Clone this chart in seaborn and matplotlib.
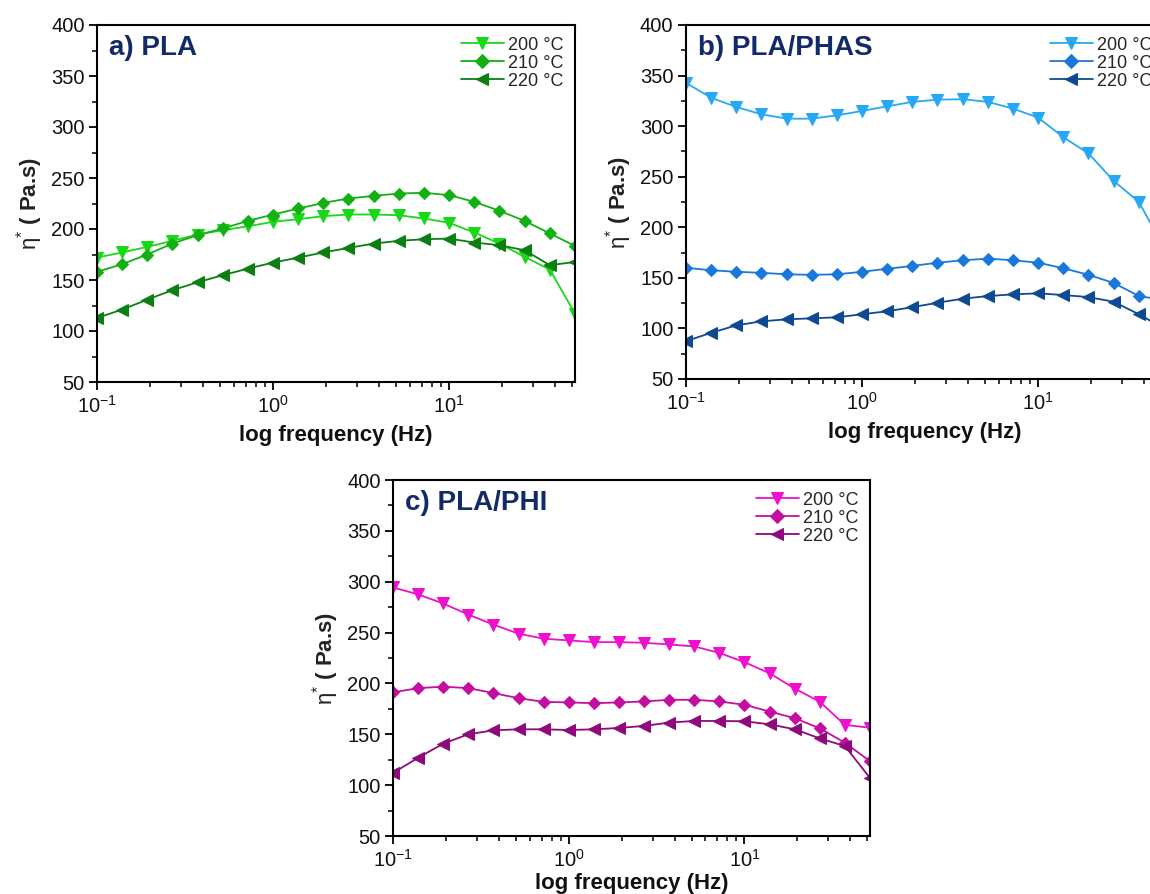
import numpy as np
import pandas as pd
import matplotlib
matplotlib.use("Agg")
import matplotlib.pyplot as plt
import seaborn as sns
from matplotlib.ticker import MultipleLocator, LogLocator, NullFormatter

# ---------------- data ----------------
freq = [0.1, 0.139, 0.193, 0.268, 0.373, 0.518, 0.720, 1.0, 1.39, 1.93,
        2.68, 3.73, 5.18, 7.20, 10.0, 13.9, 19.3, 26.8, 37.3, 51.8]

temps = ["200 °C", "210 °C", "220 °C"]

pla_200 = [172, 177, 182.5, 188.4, 194.6, 198.8, 202.7, 207, 209.6, 212.6,
           214.2, 214.2, 213.5, 210.3, 206, 196.5, 185.7, 172.7, 160.2, 117]
pla_210 = [158, 165.5, 175, 185.7, 194, 200.5, 208, 214.2, 220.1, 225.6,
           229.9, 232.5, 234.8, 235.5, 233.2, 226.6, 217.8, 208, 195.6, 183.4]
pla_220 = [112.8, 121, 130.8, 140, 147.8, 154.7, 161.2, 167.1, 172, 177,
           181.5, 185.7, 188.4, 190, 190.6, 186.7, 184.1, 179.2, 164.5, 167.7]

phas_200 = [342.8, 328, 319, 311.7, 307.4, 307.4, 310.7, 315, 319.6, 324,
            326.2, 326.6, 324, 317.3, 308.4, 289, 273, 246, 225, 180]
phas_210 = [160, 157.5, 156, 155, 153.5, 153, 153.5, 156, 159, 161.8,
            165, 167.4, 169, 167.4, 165, 159.5, 153, 145, 132, 128]
phas_220 = [87.4, 95.7, 103, 107, 109, 110, 111, 114, 117, 121,
            125.4, 129.4, 132, 133.7, 134.7, 133, 131, 126.4, 114, 100]

phi_200 = [294.4, 287.5, 278.6, 267.7, 257.8, 248.9, 244, 242.3, 240.6, 240.6,
           240, 238.3, 236.4, 230, 220.9, 210, 195, 182, 159.2, 156.5]
phi_210 = [191.2, 195.4, 196.8, 195.4, 190.5, 185.5, 181.9, 181.3, 180.6, 181.3,
           182.3, 183.9, 183.9, 182.3, 179, 172.4, 165.8, 155.9, 141.7, 123.5]
phi_220 = [112, 126.9, 140.8, 150, 153.9, 154.9, 154.9, 154.2, 154.9, 156.2,
           158.2, 161.5, 163.1, 163.1, 162.8, 159.8, 154.9, 146, 138.4, 107]

panel_titles = ["a) PLA", "b) PLA/PHAS", "c) PLA/PHI"]
yticks = [50, 100, 150, 200, 250, 300, 350, 400]

# ---------------- style ----------------
sns.set_theme(style="ticks")
plt.rcParams["font.family"] = ["Liberation Sans", "DejaVu Sans"]
plt.rcParams["mathtext.fontset"] = "custom"
plt.rcParams["mathtext.rm"] = "Liberation Sans"
plt.rcParams["mathtext.it"] = "Liberation Sans:italic"
plt.rcParams["mathtext.bf"] = "Liberation Sans:bold"
plt.rcParams["axes.unicode_minus"] = False

W, H = 1150, 894
fig = plt.figure(figsize=(W / 100, H / 100), dpi=100)

def rect(left, top, right, bottom):
    return [left / W, 1 - bottom / H, (right - left) / W, (bottom - top) / H]

axes = [
    fig.add_axes(rect(97, 25, 575, 382)),
    fig.add_axes(rect(686, 25, 1164, 379)),
    fig.add_axes(rect(393, 480, 870, 836)),
]
xlabel_pads = [6, 6, 2]

series = [
    (pla_200, pla_210, pla_220),
    (phas_200, phas_210, phas_220),
    (phi_200, phi_210, phi_220),
]
colors = [
    ("#18d818", "#12b012", "#0b7f12"),
    ("#27a8f5", "#1a78dc", "#0d4a92"),
    ("#ee10cc", "#c40ea0", "#8e0a7a"),
]
markers = ["v", "D", "<"]
msizes = [8, 6.5, 8]

for ax, ser, cols, title, xpad in zip(axes, series, colors, panel_titles, xlabel_pads):
    for vals, col, mk, ms, lab in zip(ser, cols, markers, msizes, temps):
        df = pd.DataFrame({"f": freq, "v": vals})
        sns.lineplot(data=df, x="f", y="v", ax=ax, color=col, marker=mk,
                     markersize=ms, markeredgecolor=col, linewidth=1.3,
                     label=lab, clip_on=True)
    ax.set_xscale("log")
    ax.set_xlim(0.1, 51.8)
    ax.set_ylim(50, 400)
    ax.set_yticks(yticks)
    ax.yaxis.set_minor_locator(MultipleLocator(25))
    ax.xaxis.set_major_locator(LogLocator(base=10, numticks=10))
    ax.xaxis.set_minor_locator(LogLocator(base=10, subs=np.arange(2, 10), numticks=20))
    ax.xaxis.set_minor_formatter(NullFormatter())
    ax.tick_params(axis="both", which="major", direction="out", length=6,
                   width=1.3, labelsize=14.5, color="black", labelcolor="#111111",
                   top=False, right=False, pad=3)
    ax.tick_params(axis="both", which="minor", direction="out", length=3.5,
                   width=1.1, color="black", top=False, right=False)
    for sp in ax.spines.values():
        sp.set_visible(True)
        sp.set_color("black")
        sp.set_linewidth(1.5)
    ax.set_xlabel("log frequency (Hz)", fontsize=16, fontweight="bold",
                  color="#111111", labelpad=xpad)
    ax.set_ylabel(r"$\mathrm{\eta}^{*}$ ( Pa.s)", fontsize=16, fontweight="bold",
                  color="#222222", labelpad=4)
    ax.text(0.025, 0.935, title, transform=ax.transAxes, fontsize=20,
            fontweight="bold", color="#122a6a", ha="left", va="center")
    ax.legend(loc="upper right", bbox_to_anchor=(1.0, 1.0), frameon=False,
              fontsize=13, labelspacing=0.05, handlelength=2.4,
              handletextpad=0.2, borderaxespad=0.45, borderpad=0.2,
              markerscale=1.1)

fig.savefig("out.png", dpi=100)
